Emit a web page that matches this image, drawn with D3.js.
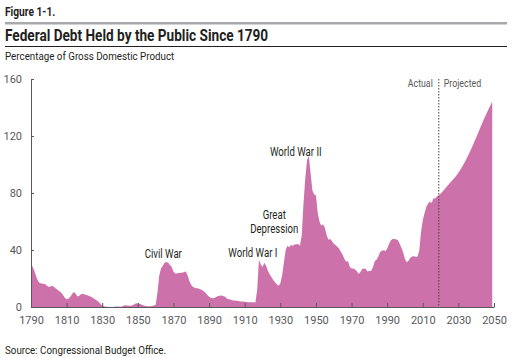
<!DOCTYPE html>
<html>
<head>
<meta charset="utf-8">
<script src="https://cdn.jsdelivr.net/npm/d3@7"></script>
<style>
  body { margin: 0; background: #fff; }
  svg text { font-family: Roboto, sans-serif; }
</style>
</head>
<body>
<svg id="chart" width="512" height="358"></svg>
<script>
// ==== Date ====
const startYear = 1790;
// debt held by public, % of GDP, one value per year from 1790
const debtActual = [
  30, 28, 25, 21, 18, 16.8, 16.5, 16.3, 16, 15,        // 1790s
  14, 14.5, 14.8, 14, 13, 12, 11, 10, 8.5, 6.5,        // 1800s
  5.5, 5.8, 7, 9, 10.5, 9.5, 7.5, 7.8, 9, 9.2,         // 1810s
  9, 8.5, 8, 7.5, 7, 6.2, 5.5, 4.5, 3.5, 2.2,          // 1820s
  1, 0.5, 0.2, 0.1, 0, 0, 0, 0.1, 0.3, 0.3,            // 1830s
  0.2, 0.4, 0.8, 1.2, 1, 0.8, 0.8, 1.3, 2, 2.6,        // 1840s
  2.5, 2.2, 1.8, 1.2, 0.9, 0.6, 0.5, 0.5, 0.7, 1,      // 1850s
  1.5, 10, 22, 27, 29, 31, 31.5, 31, 29.5, 28,         // 1860s
  25, 23.5, 23.5, 23.8, 24, 24, 24.5, 25, 22, 18,      // 1870s
  15.5, 14, 13.5, 13.2, 13, 12.5, 12, 11, 10, 8.5,     // 1880s
  7.2, 6.5, 6.2, 6.3, 7, 7.8, 7.9, 8, 7.8, 7.2,        // 1890s
  6, 5.5, 5.2, 4.8, 4.5, 4.4, 4.4, 4, 3.8, 3.8,        // 1900s
  3.6, 3.5, 3.4, 3.4, 3.3, 3.3, 3.2, 12, 33, 30,       // 1910s
  28, 31, 29, 25.5, 23, 21, 19, 17.5, 16, 15,          // 1920s
  16.5, 22, 31, 40, 43, 42, 43.5, 43, 43.8, 44,        // 1930s
  44.2, 43, 50, 72, 90, 103, 106, 94, 82, 79,          // 1940s
  78.5, 66, 60, 57, 58, 55.7, 50.6, 47.2, 47.7, 46.4,  // 1950s
  44.3, 43.5, 42.3, 41, 38.7, 36.7, 33.7, 31.8, 32.2, 28.3, // 1960s
  27, 27.1, 26.4, 25.1, 23.1, 24.5, 26.7, 27.1, 26.6, 24.9, // 1970s
  25.5, 25.2, 27.9, 32.1, 33.1, 35.3, 38.4, 39.5, 39.8, 39.3, // 1980s
  40.8, 44, 46.6, 47.8, 47.7, 47.5, 46.8, 44.5, 41.6, 38.2,   // 1990s
  33.6, 31.4, 32.5, 34.5, 35.5, 35.6, 35.3, 35.2, 39.3, 52.3, // 2000s
  60.9, 65.9, 70.4, 72.6, 74.1, 72.9, 76.4, 76.1, 77.8, 78.5  // 2010s
];
const debtProjected = [
  79.5, 80.8, 82.3, 83.8, 85.3, 86.7, 88, 89.4, 90.8, 92.4,       // 2020s
  94.2, 96.1, 98.2, 100.4, 102.7, 105.1, 107.7, 110.4, 113.2, 116.1, // 2030s
  119, 122, 125, 127.9, 130.8, 133.6, 136.4, 139, 141.6, 144      // 2040s
];
const dividerYear = 2019;
const xTicks = [1790, 1810, 1830, 1850, 1870, 1890, 1910, 1930, 1950, 1970, 1990, 2010, 2030, 2050];
const yTicks = [0, 40, 80, 120, 160];
const events = [
  { lines: ['Civil War'], year: 1864.3, y: 34.5 },
  { lines: ['World War I'], year: 1914.6, y: 35 },
  { lines: ['Great', 'Depression'], year: 1926.6, y: 52 },
  { lines: ['World War II'], year: 1938.7, y: 106 }
];

const series = debtActual.concat(debtProjected)
  .map((v, i) => ({ year: startYear + i, value: v }));

// ==== Desen ====
const svg = d3.select('#chart');
const ink = '#231f20';
const grey = '#58595b';

// font-ul original e condensat; strangem textul pe orizontala
function narrow(sel, k) {
  sel.each(function() {
    const w = this.getComputedTextLength();
    d3.select(this).attr('textLength', w * k).attr('lengthAdjust', 'spacingAndGlyphs');
  });
  return sel;
}

narrow(svg.append('text').attr('x', 5).attr('y', 16)
  .attr('font-size', 12).attr('font-weight', 'bold').attr('fill', ink)
  .text('Figure 1-1.'), 0.85);
svg.append('rect').attr('x', 5).attr('y', 22).attr('width', 502).attr('height', 2.5)
  .attr('fill', '#a7a9ac');
narrow(svg.append('text').attr('x', 5).attr('y', 41)
  .attr('font-size', 16).attr('font-weight', 'bold').attr('fill', ink)
  .text('Federal Debt Held by the Public Since 1790'), 0.85);
svg.append('rect').attr('x', 5).attr('y', 46).attr('width', 502).attr('height', 1)
  .attr('fill', ink);
narrow(svg.append('text').attr('x', 5).attr('y', 60)
  .attr('font-size', 11.5).attr('fill', ink)
  .text('Percentage of Gross Domestic Product'), 0.85);
narrow(svg.append('text').attr('x', 5).attr('y', 354)
  .attr('font-size', 11.5).attr('fill', ink)
  .text('Source: Congressional Budget Office.'), 0.85);

const x = d3.scaleLinear().domain([1790, 2050]).range([31, 494]);
const y = d3.scaleLinear().domain([0, 160]).range([307, 79]);

const area = d3.area()
  .x(d => x(d.year))
  .y0(y(0))
  .y1(d => y(d.value));

svg.append('path')
  .datum(series)
  .attr('d', area)
  .attr('fill', '#cd71aa');

// axa Y
const gy = svg.append('g')
  .attr('transform', `translate(${x(1790)},0)`)
  .call(d3.axisLeft(y).tickValues(yTicks).tickSize(-3).tickPadding(9));
gy.select('.domain').attr('stroke', grey);
gy.selectAll('.tick line').attr('stroke', grey);
gy.selectAll('text').attr('font-family', 'Roboto, sans-serif')
  .attr('font-size', 11).attr('fill', grey);

// axa X
const gx = svg.append('g')
  .attr('transform', `translate(0,${y(0)})`)
  .call(d3.axisBottom(x).tickValues(xTicks).tickFormat(d3.format('d')).tickSizeInner(-4).tickSizeOuter(0).tickPadding(9));
gx.select('.domain').attr('stroke', grey);
gx.selectAll('.tick line').attr('stroke', grey);
gx.selectAll('text').attr('font-family', 'Roboto, sans-serif')
  .attr('font-size', 11).attr('fill', grey);

// actual / projected
svg.append('line')
  .attr('x1', x(dividerYear)).attr('x2', x(dividerYear))
  .attr('y1', 79).attr('y2', y(0))
  .attr('stroke', '#444').attr('stroke-width', 1)
  .attr('stroke-dasharray', '1.5,1.5');
narrow(svg.append('text').attr('x', x(dividerYear) - 6).attr('y', 87)
  .attr('text-anchor', 'end').attr('font-size', 11).attr('fill', grey)
  .text('Actual'), 0.8);
narrow(svg.append('text').attr('x', x(dividerYear) + 5).attr('y', 87)
  .attr('font-size', 11).attr('fill', grey)
  .text('Projected'), 0.8);

// evenimente
events.forEach(ev => {
  ev.lines.forEach((ln, i) => {
    narrow(svg.append('text')
      .attr('x', x(ev.year))
      .attr('y', y(ev.y) - (ev.lines.length - 1 - i) * 14)
      .attr('text-anchor', 'middle')
      .attr('font-size', 12).attr('fill', ink)
      .text(ln), 0.8);
  });
});
</script>
</body>
</html>
